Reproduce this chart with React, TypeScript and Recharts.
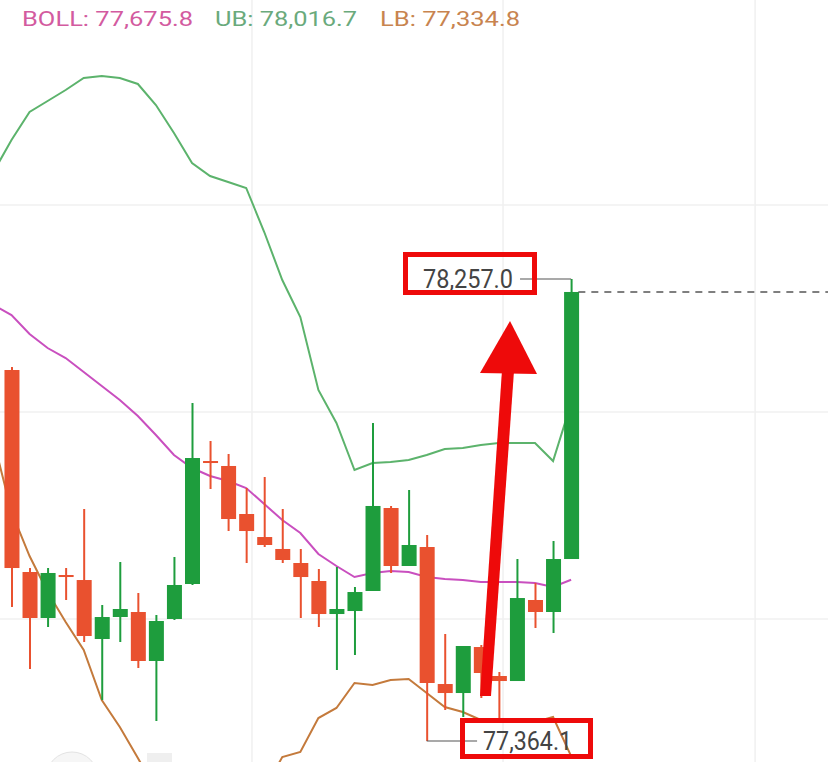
import React from 'react';
import { ComposedChart, Bar, Line, XAxis, YAxis, CartesianGrid, ReferenceLine } from 'recharts';

const W = 828;
const H = 762;

const RED = '#e9512f';
const GREEN = '#1e9d3d';
const UB_COLOR = '#5cb36c';
const MID_COLOR = '#c94fbf';
const LB_COLOR = '#c47a3c';
const ANNOT = '#ee0a0a';

// slot index of each candle; -1 is the bar just off the left edge (only the bands reach into view)
const IDX = [-1, 0, 1, 2, 3, 4, 5, 6, 7, 8, 9, 10, 11, 12, 13, 14, 15, 16, 17, 18, 19, 20, 21, 22, 23, 24, 25, 26, 27, 28, 29, 30, 31];

// OHLC for candles 0..31
const OPEN = [78081.1, 77690.7, 77601.8, 77684.9, 77675.2, 77561.2, 77603.7, 77613.4, 77518.7, 77599.9, 77667.5, 77905.2, 77895.6, 77802.8, 77758.3, 77735.2, 77708.1, 77673.3, 77609.5, 77615.3, 77654.0, 77814.4, 77702.3, 77739.0, 77474.2, 77456.8, 77545.7, 77489.7, 77480.0, 77636.6, 77613.4, 77715.8];
const HIGH = [78086.9, 77698.4, 77698.4, 77698.4, 77812.5, 77626.9, 77710.0, 77650.1, 77607.6, 77719.7, 78017.3, 77943.9, 77918.8, 77853.0, 77874.3, 77812.5, 77735.2, 77696.5, 77700.4, 77661.7, 77978.7, 77818.3, 77849.2, 77762.2, 77570.9, 77547.7, 77549.6, 77497.4, 77715.8, 77669.4, 77750.6, 78257.0];
const LOW = [77623.1, 77503.2, 77584.4, 77636.6, 77555.4, 77443.3, 77555.4, 77505.2, 77402.7, 77597.9, 77665.6, 77851.1, 77769.9, 77708.1, 77739.0, 77708.1, 77601.8, 77584.4, 77501.3, 77530.3, 77654.0, 77688.8, 77702.3, 77364.1, 77424.0, 77410.5, 77447.2, 77400.8, 77480.0, 77582.5, 77572.8, 77715.8];
const CLOSE = [77698.4, 77601.8, 77688.8, 77681.0, 77567.0, 77603.7, 77619.2, 77518.7, 77596.0, 77665.6, 77911.0, 77901.4, 77793.1, 77769.9, 77742.9, 77713.9, 77681.0, 77609.5, 77619.2, 77652.0, 77818.3, 77702.3, 77742.9, 77476.2, 77456.8, 77547.7, 77495.5, 77480.0, 77640.4, 77613.4, 77715.8, 78231.9];

// Bollinger bands for slots -1..31
const BOLL_UB = [78463.8, 78525.6, 78579.7, 78601.0, 78622.3, 78645.5, 78649.3, 78645.5, 78633.9, 78593.3, 78539.2, 78481.2, 78456.0, 78444.5, 78432.9, 78347.8, 78255.0, 78183.5, 78042.5, 77978.7, 77887.8, 77901.4, 77903.3, 77907.2, 77916.8, 77928.4, 77930.4, 77936.2, 77940.0, 77940.0, 77940.0, 77905.2, 78016.7];
const BOLL_MID = [78206.7, 78187.4, 78150.7, 78123.6, 78104.3, 78077.2, 78050.2, 78023.1, 77992.2, 77955.5, 77916.8, 77891.7, 77876.2, 77866.6, 77853.0, 77822.1, 77791.2, 77766.1, 77725.5, 77702.3, 77681.0, 77688.8, 77692.6, 77690.7, 77681.0, 77677.2, 77675.2, 77671.4, 77671.4, 77671.4, 77669.4, 77661.7, 77675.8];
const BOLL_LB = [77945.8, 77806.7, 77721.6, 77652.0, 77594.1, 77539.9, 77443.3, 77391.1, 77331.2, 77269.4, 77221.1, 77192.1, 77182.4, 77192.1, 77221.1, 77269.4, 77333.2, 77342.8, 77408.5, 77427.9, 77476.2, 77472.3, 77482.0, 77483.9, 77456.8, 77429.8, 77420.1, 77404.7, 77400.8, 77400.8, 77400.8, 77410.5, 77334.8];

const GRID_PRICES = [78400, 78000, 77600];
const GRID_SLOTS = [13.32, 27.23, 41.19];

const X_DOMAIN: [number, number] = [-0.637, 45.23];
const Y_DOMAIN: [number, number] = [77323.5, 78796.2];

const HI_IDX = 31;
const LO_IDX = 23;

const data = IDX.map((i, k) => ({
  i,
  range: i >= 0 ? [LOW[i], HIGH[i]] : undefined,
  open: i >= 0 ? OPEN[i] : undefined,
  high: i >= 0 ? HIGH[i] : undefined,
  low: i >= 0 ? LOW[i] : undefined,
  close: i >= 0 ? CLOSE[i] : undefined,
  ub: BOLL_UB[k],
  mid: BOLL_MID[k],
  lb: BOLL_LB[k],
}));

const fmt = (v: number) => v.toLocaleString('en-US', { minimumFractionDigits: 1, maximumFractionDigits: 1 });

function Candle(props: any) {
  const { x, y, width, height, payload } = props;
  if (!payload || payload.open == null || !isFinite(y) || !isFinite(height)) return null;
  const { open, close, high, low } = payload;
  const top = Math.min(y, y + height);
  const bottom = Math.max(y, y + height);
  const k = (bottom - top) / (high - low);
  const py = (v: number) => top + (high - v) * k;
  const cx = x + width / 2;
  const color = close >= open ? GREEN : RED;
  const bTop = py(Math.max(open, close));
  const bH = Math.max(2, py(Math.min(open, close)) - bTop);
  return (
    <g>
      <line x1={cx} x2={cx} y1={top} y2={bottom} stroke={color} strokeWidth={2} />
      <rect x={cx - 7.5} y={bTop} width={15} height={bH} fill={color} />
    </g>
  );
}

const LABEL_FONT = 'Roboto, "Liberation Sans", Arial, sans-serif';

function HighLabel(p: any) {
  const vb = p.viewBox || {};
  return (
    <text x={vb.x - 97} y={vb.y + 9} fontSize={25} fill="#444" fontFamily={LABEL_FONT}
      textLength={90} lengthAdjust="spacingAndGlyphs">{fmt(HIGH[HI_IDX])}</text>
  );
}

function LowLabel(p: any) {
  const vb = p.viewBox || {};
  return (
    <text x={vb.x + vb.width + 6} y={vb.y + 9} fontSize={25} fill="#444" fontFamily={LABEL_FONT}
      textLength={89} lengthAdjust="spacingAndGlyphs">{fmt(LOW[LO_IDX])}</text>
  );
}

const layer: React.CSSProperties = { position: 'absolute', left: 0, top: 0 };
const MARGIN = { top: 0, right: 0, bottom: 0, left: 0 };

export default function App() {
  const last = IDX.length - 1;
  return (
    <div style={{ position: 'absolute', left: 0, top: 0, width: W, height: H, background: '#fff', overflow: 'hidden' }}>
      {/* bottom layer: grid + bollinger bands */}
      <div style={layer}>
        <ComposedChart width={W} height={H} data={data} margin={MARGIN}>
          <CartesianGrid stroke="#f0f0f0" strokeWidth={1.5} horizontalValues={GRID_PRICES} verticalValues={GRID_SLOTS} />
          <XAxis type="number" dataKey="i" domain={X_DOMAIN} hide allowDataOverflow />
          <YAxis type="number" domain={Y_DOMAIN} hide allowDataOverflow />
          <Line dataKey="ub" stroke={UB_COLOR} strokeWidth={2} dot={false} isAnimationActive={false} />
          <Line dataKey="mid" stroke={MID_COLOR} strokeWidth={2} dot={false} isAnimationActive={false} />
          <Line dataKey="lb" stroke={LB_COLOR} strokeWidth={2} dot={false} isAnimationActive={false} />
        </ComposedChart>
      </div>

      {/* top layer: candles and price markers, same scales */}
      <div style={layer}>
        <ComposedChart width={W} height={H} data={data} margin={MARGIN}>
          <XAxis type="number" dataKey="i" domain={X_DOMAIN} hide allowDataOverflow />
          <YAxis type="number" domain={Y_DOMAIN} hide allowDataOverflow />
          <Bar dataKey="range" barSize={15} shape={Candle} isAnimationActive={false} />
          <ReferenceLine
            segment={[{ x: 31.4, y: CLOSE[CLOSE.length - 1] }, { x: 46, y: CLOSE[CLOSE.length - 1] }]}
            stroke="#555" strokeWidth={1.5} strokeDasharray="7 6" ifOverflow="visible"
          />
          <ReferenceLine
            segment={[{ x: 28.17, y: HIGH[HI_IDX] }, { x: HI_IDX, y: HIGH[HI_IDX] }]}
            stroke="#555" strokeWidth={1.2} label={{ content: HighLabel }}
          />
          <ReferenceLine
            segment={[{ x: LO_IDX, y: LOW[LO_IDX] }, { x: 25.79, y: LOW[LO_IDX] }]}
            stroke="#555" strokeWidth={1.2} label={{ content: LowLabel }}
          />
        </ComposedChart>
      </div>

      <svg width={W} height={H} style={{ ...layer, pointerEvents: 'none' }}>
        <g fontFamily={LABEL_FONT} fontSize={21}>
          <text x={22} y={26} fill="#d35b9f" textLength={171} lengthAdjust="spacingAndGlyphs">{`BOLL: ${fmt(BOLL_MID[last])}`}</text>
          <text x={215} y={26} fill="#6aaa7c" textLength={142} lengthAdjust="spacingAndGlyphs">{`UB: ${fmt(BOLL_UB[last])}`}</text>
          <text x={380} y={26} fill="#c8844f" textLength={140} lengthAdjust="spacingAndGlyphs">{`LB: ${fmt(BOLL_LB[last])}`}</text>
        </g>
        <circle cx={72} cy={778} r={26} fill="#f6f6f6" stroke="#e3e3e3" />
        <rect x={147} y={753} width={25} height={12} fill="#efefef" />
        {/* hand-drawn highlight annotations */}
        <rect x={405.5} y={254.5} width={129} height={38} fill="none" stroke={ANNOT} strokeWidth={5} />
        <rect x={462.5} y={720.5} width={128} height={36} fill="none" stroke={ANNOT} strokeWidth={5} />
        <polygon points="480,696 491,696 514,371 502,370" fill={ANNOT} />
        <polygon points="510,321 480,373 537,374" fill={ANNOT} />
      </svg>
    </div>
  );
}
